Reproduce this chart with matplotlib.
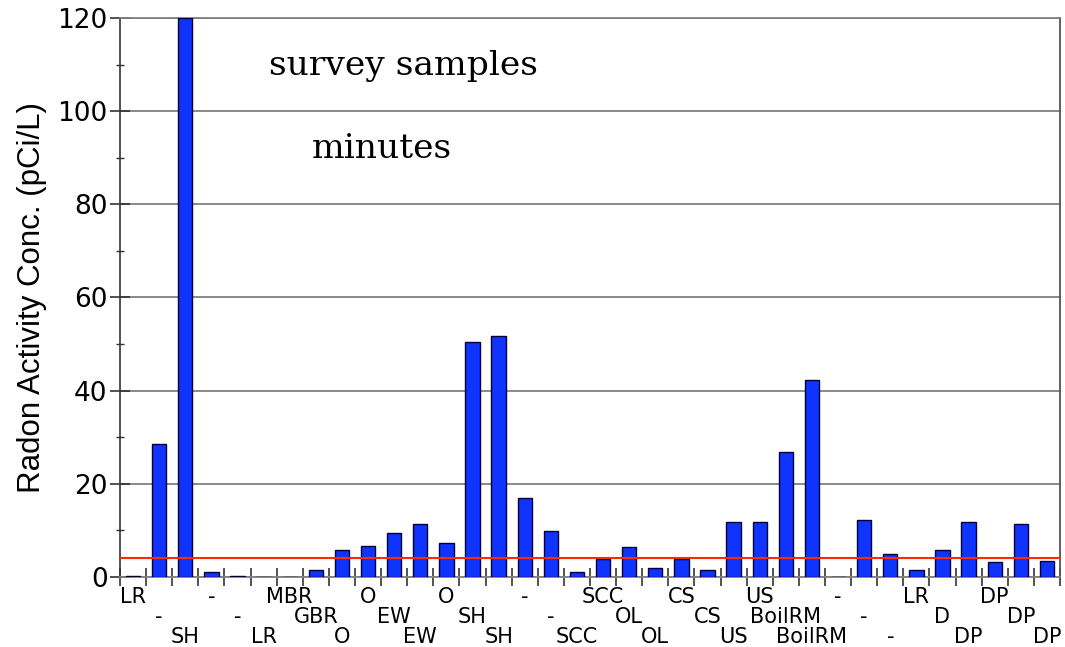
import numpy as np
import matplotlib
matplotlib.use('Agg')
import matplotlib.pyplot as plt
import matplotlib.transforms as mtransforms

# site labels, one per bar (drawn on three staggered rows)
siteLabels = ['LR', '-', 'SH', '-', '-', 'LR', 'MBR', 'GBR', 'O', 'O', 'EW', 'EW',
              'O', 'SH', 'SH', '-', '-', 'SCC', 'SCC', 'OL', 'OL', 'CS', 'CS', 'US',
              'US', 'BoilRM', 'BoilRM', '-', '-', '-', 'LR', 'D', 'DP', 'DP', 'DP', 'DP']

# radon activity concentration (pCi/L); nan = no sample
radonConc = [0.2, 28.5, 120.0, 1.0, 0.3, 0.1, 0.1, 1.6, 5.7, 6.6, 9.4, 11.3,
             7.4, 50.4, 51.7, 16.9, 9.8, 1.0, 3.9, 6.5, 1.9, 3.9, 1.4, 11.9,
             11.9, 26.9, 42.3, np.nan, 12.2, 4.9, 1.4, 5.9, 11.9, 3.2, 11.3, 3.4]

epaLimit = 4.0
yTicks = [0, 20, 40, 60, 80, 100, 120]

nBars = len(radonConc)
xPos = np.arange(nBars) + 0.5

fig = plt.figure(figsize=(10.65, 6.47), dpi=100)
ax = fig.add_axes([0.1127, 0.1082, 0.8826, 0.864])

gridCol = '#808080'
ax.set_axisbelow(True)
ax.yaxis.grid(True, color=gridCol, lw=1.3)

ax.bar(xPos, np.nan_to_num(radonConc), width=0.55, color='#1034ff',
       edgecolor='#000033', linewidth=1.0, zorder=3)
ax.axhline(epaLimit, color='#ff2a00', lw=1.5, zorder=4)

ax.set_xlim(0, nBars)
ax.set_ylim(0, 120)

ax.set_yticks(yTicks)
ax.set_yticks(np.arange(10, 120, 20), minor=True)
ax.tick_params(axis='y', which='major', direction='inout', length=14, width=1.2,
               color='#333333', labelsize=19, pad=2)
ax.tick_params(axis='y', which='minor', direction='inout', length=6, width=1.0,
               color='#333333')

ax.set_xticks(np.arange(nBars + 1))
ax.set_xticklabels([])
ax.tick_params(axis='x', which='major', direction='inout', length=13.5, width=1.3,
               color='#444444')

for side in ['top', 'bottom']:
    ax.spines[side].set_color(gridCol)
    ax.spines[side].set_linewidth(1.3)
ax.spines['right'].set_color('#555555')
ax.spines['right'].set_linewidth(1.3)
ax.spines['left'].set_color('#333333')
ax.spines['left'].set_linewidth(1.2)

# staggered category labels below the axis
rowOffsets = [18.7, 33.1, 47.5]
trans = mtransforms.blended_transform_factory(ax.transData, ax.transAxes)
for i, lab in enumerate(siteLabels):
    t = mtransforms.offset_copy(trans, fig=fig, x=0, y=-rowOffsets[i % 3], units='points')
    ax.text(xPos[i], 0, lab, transform=t, ha='center', va='baseline',
            fontsize=15, family='DejaVu Sans', clip_on=False)

ax.set_ylabel('Radon Activity Conc. (pCi/L)', fontsize=22.5, family='Liberation Sans',
              va='center')
ax.yaxis.set_label_coords(-0.094, 0.5)

ax.text(5.69, 107.7, 'survey samples', family='DejaVu Serif', fontsize=24.8,
        ha='left', va='baseline')
ax.text(7.34, 89.9, 'minutes', family='DejaVu Serif', fontsize=24.8,
        ha='left', va='baseline')

fig.savefig('out.png', dpi=100)
